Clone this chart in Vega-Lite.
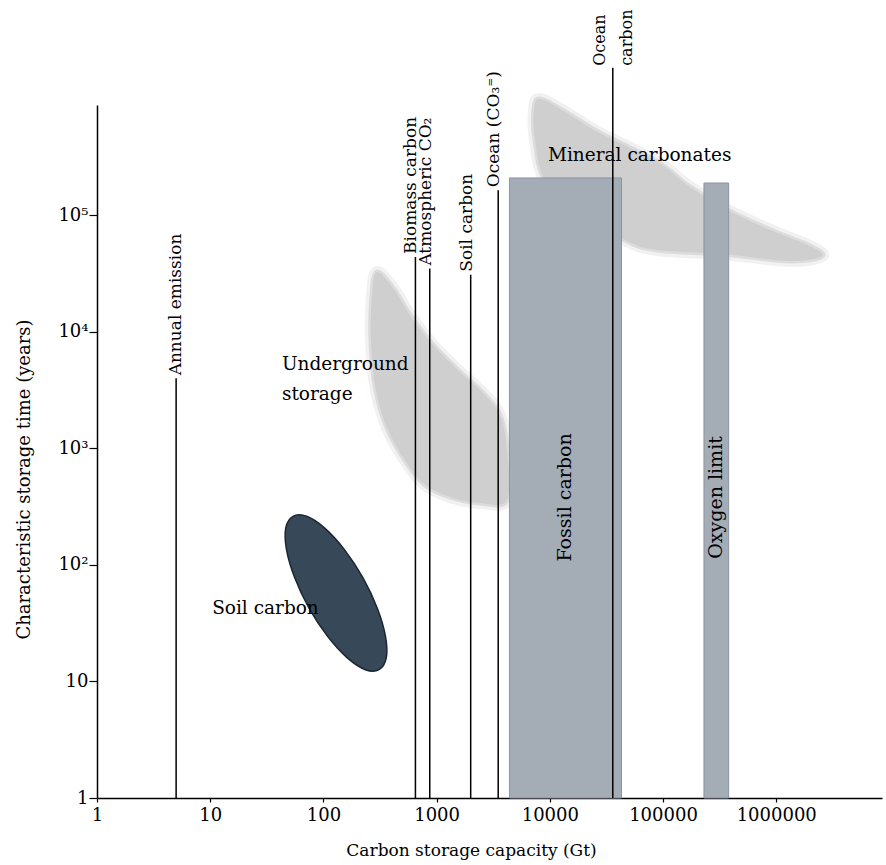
{
  "$schema": "https://vega.github.io/schema/vega-lite/v6.json",
  "width": 785,
  "height": 693,
  "autosize": {"type": "none"},
  "padding": {"left": 97, "top": 105, "right": 4, "bottom": 62},
  "background": "white",
  "config": {
    "view": {"stroke": null},
    "font": "DejaVu Serif",
    "text": {"font": "DejaVu Serif", "fontSize": 17, "color": "black"},
    "axis": {
      "grid": false,
      "domainColor": "black",
      "domainWidth": 1.5,
      "tickColor": "black",
      "tickWidth": 1.2,
      "labelFont": "DejaVu Serif",
      "labelFontSize": 18,
      "labelColor": "black",
      "titleFont": "DejaVu Serif",
      "titleFontSize": 17,
      "titleFontWeight": "normal",
      "titleColor": "black"
    }
  },
  "datasets": {
    "outlines": [
      {"region": "Mineral carbonates", "step": 1, "capacity": 8200, "time": 1000000},
      {"region": "Mineral carbonates", "step": 2, "capacity": 14200, "time": 760000},
      {"region": "Mineral carbonates", "step": 3, "capacity": 27700, "time": 510000},
      {"region": "Mineral carbonates", "step": 4, "capacity": 88400, "time": 290000},
      {"region": "Mineral carbonates", "step": 5, "capacity": 173000, "time": 176000},
      {"region": "Mineral carbonates", "step": 6, "capacity": 391000, "time": 109000},
      {"region": "Mineral carbonates", "step": 7, "capacity": 937000, "time": 73700},
      {"region": "Mineral carbonates", "step": 8, "capacity": 1990000, "time": 54700},
      {"region": "Mineral carbonates", "step": 9, "capacity": 2540000, "time": 44900},
      {"region": "Mineral carbonates", "step": 10, "capacity": 1320000, "time": 40700},
      {"region": "Mineral carbonates", "step": 11, "capacity": 339000, "time": 46700},
      {"region": "Mineral carbonates", "step": 12, "capacity": 88400, "time": 50600},
      {"region": "Mineral carbonates", "step": 13, "capacity": 46200, "time": 61700},
      {"region": "Mineral carbonates", "step": 14, "capacity": 18500, "time": 111500},
      {"region": "Mineral carbonates", "step": 15, "capacity": 9070, "time": 201600},
      {"region": "Mineral carbonates", "step": 16, "capacity": 7400, "time": 445000},
      {"region": "Mineral carbonates", "step": 17, "capacity": 7250, "time": 805000},
      {"region": "Underground storage", "step": 1, "capacity": 297, "time": 32700},
      {"region": "Underground storage", "step": 2, "capacity": 412, "time": 23900},
      {"region": "Underground storage", "step": 3, "capacity": 582, "time": 14000},
      {"region": "Underground storage", "step": 4, "capacity": 929, "time": 7730},
      {"region": "Underground storage", "step": 5, "capacity": 1610, "time": 4540},
      {"region": "Underground storage", "step": 6, "capacity": 2570, "time": 3000},
      {"region": "Underground storage", "step": 7, "capacity": 3630, "time": 1940},
      {"region": "Underground storage", "step": 8, "capacity": 4190, "time": 971},
      {"region": "Underground storage", "step": 9, "capacity": 4190, "time": 361},
      {"region": "Underground storage", "step": 10, "capacity": 2420, "time": 341},
      {"region": "Underground storage", "step": 11, "capacity": 1310, "time": 384},
      {"region": "Underground storage", "step": 12, "capacity": 790, "time": 486},
      {"region": "Underground storage", "step": 13, "capacity": 559, "time": 722},
      {"region": "Underground storage", "step": 14, "capacity": 372, "time": 1440},
      {"region": "Underground storage", "step": 15, "capacity": 291, "time": 3180},
      {"region": "Underground storage", "step": 16, "capacity": 263, "time": 8530},
      {"region": "Underground storage", "step": 17, "capacity": 269, "time": 20800},
      {"region": "Soil carbon", "step": 1, "capacity": 309.8, "time": 12.63},
      {"region": "Soil carbon", "step": 2, "capacity": 235.0, "time": 12.63},
      {"region": "Soil carbon", "step": 3, "capacity": 162.6, "time": 15.94},
      {"region": "Soil carbon", "step": 4, "capacity": 108.9, "time": 24.38},
      {"region": "Soil carbon", "step": 5, "capacity": 74.6, "time": 42.58},
      {"region": "Soil carbon", "step": 6, "capacity": 55.7, "time": 77.96},
      {"region": "Soil carbon", "step": 7, "capacity": 47.2, "time": 135.8},
      {"region": "Soil carbon", "step": 8, "capacity": 46.5, "time": 208.2},
      {"region": "Soil carbon", "step": 9, "capacity": 53.9, "time": 261.8},
      {"region": "Soil carbon", "step": 10, "capacity": 71.1, "time": 261.8},
      {"region": "Soil carbon", "step": 11, "capacity": 102.7, "time": 207.4},
      {"region": "Soil carbon", "step": 12, "capacity": 153.3, "time": 135.6},
      {"region": "Soil carbon", "step": 13, "capacity": 223.8, "time": 77.7},
      {"region": "Soil carbon", "step": 14, "capacity": 299.9, "time": 42.4},
      {"region": "Soil carbon", "step": 15, "capacity": 353.8, "time": 24.3},
      {"region": "Soil carbon", "step": 16, "capacity": 358.8, "time": 15.88}
    ],
    "reservoirs": [
      {"name": "Annual emission", "capacity": 5, "time": 4000, "base": 1},
      {"name": "Biomass carbon", "capacity": 650, "time": 44000, "base": 1},
      {"name": "Atmospheric CO₂", "capacity": 870, "time": 35000, "base": 1},
      {"name": "Soil carbon", "capacity": 2000, "time": 31000, "base": 1},
      {"name": "Ocean (CO₃⁼)", "capacity": 3500, "time": 165000, "base": 1},
      {"name": "Ocean carbon", "capacity": 36000, "time": 1850000, "base": 1}
    ],
    "ranges": [
      {"name": "Fossil carbon", "low": 4400, "high": 43000, "time": 210000, "base": 1},
      {"name": "Oxygen limit", "low": 230000, "high": 380000, "time": 190000, "base": 1}
    ],
    "notes": [
      {"label": "Underground\nstorage", "capacity": 43, "time": 5310},
      {"label": "Mineral carbonates", "capacity": 9640, "time": 331000},
      {"label": "Soil carbon", "capacity": 10.4, "time": 42.8},
      {"label": "Fossil carbon", "capacity": 13750, "time": 380},
      {"label": "Oxygen limit", "capacity": 296000, "time": 380}
    ]
  },
  "layer": [
    {
      "data": {"name": "outlines"},
      "transform": [{"filter": "datum.region !== 'Soil carbon'"}],
      "mark": {
        "type": "line",
        "interpolate": "cardinal-closed",
        "fill": null,
        "stroke": "#d6d6d6",
        "strokeWidth": 12,
        "strokeOpacity": 0.35,
        "strokeJoin": "round"
      },
      "encoding": {
        "x": {
          "field": "capacity",
          "type": "quantitative",
          "scale": {"type": "log", "domain": [1, 8600000], "nice": false},
          "axis": {
            "values": [1, 10, 100, 1000, 10000, 100000, 1000000],
            "labelExpr": "format(datum.value, 'd')",
            "tickSize": 4,
            "labelPadding": 4,
            "labelFlush": false,
            "labelOverlap": false,
            "title": "Carbon storage capacity (Gt)",
            "titleX": 374,
            "titleAlign": "center",
            "titlePadding": 18
          }
        },
        "y": {
          "field": "time",
          "type": "quantitative",
          "scale": {"type": "log", "domain": [1, 888000], "nice": false},
          "axis": {
            "values": [1, 10, 100, 1000, 10000, 100000],
            "labelExpr": "datum.value == 1 ? '1' : datum.value == 10 ? '10' : datum.value == 100 ? '10²' : datum.value == 1000 ? '10³' : datum.value == 10000 ? '10⁴' : '10⁵'",
            "tickSize": 8,
            "labelPadding": 1,
            "labelFlush": false,
            "labelOverlap": false,
            "title": "Characteristic storage time (years)",
            "titleFontSize": 18,
            "titleY": 374,
            "titleAlign": "center",
            "titlePadding": 24
          }
        },
        "detail": {"field": "region", "type": "nominal"},
        "order": {"field": "step", "type": "quantitative"}
      }
    },
    {
      "data": {"name": "outlines"},
      "transform": [{"filter": "datum.region !== 'Soil carbon'"}],
      "mark": {
        "type": "line",
        "interpolate": "cardinal-closed",
        "fill": "#cfcfcf",
        "stroke": "#cfcfcf",
        "strokeWidth": 5,
        "strokeOpacity": 0.6,
        "strokeJoin": "round"
      },
      "encoding": {
        "x": {"field": "capacity", "type": "quantitative"},
        "y": {"field": "time", "type": "quantitative"},
        "detail": {"field": "region", "type": "nominal"},
        "order": {"field": "step", "type": "quantitative"}
      }
    },
    {
      "data": {"name": "outlines"},
      "transform": [{"filter": "datum.region === 'Soil carbon'"}],
      "mark": {
        "type": "line",
        "interpolate": "cardinal-closed",
        "fill": "#374859",
        "stroke": "#1b2631",
        "strokeWidth": 1.5
      },
      "encoding": {
        "x": {"field": "capacity", "type": "quantitative"},
        "y": {"field": "time", "type": "quantitative"},
        "order": {"field": "step", "type": "quantitative"}
      }
    },
    {
      "data": {"name": "ranges"},
      "mark": {"type": "rect", "fill": "#a4acb6", "stroke": "#8b949f", "strokeWidth": 1},
      "encoding": {
        "x": {"field": "low", "type": "quantitative"},
        "x2": {"field": "high"},
        "y": {"field": "time", "type": "quantitative"},
        "y2": {"field": "base"}
      }
    },
    {
      "data": {"name": "reservoirs"},
      "mark": {"type": "rule", "color": "black", "strokeWidth": 1.5},
      "encoding": {
        "x": {"field": "capacity", "type": "quantitative"},
        "y": {"field": "time", "type": "quantitative"},
        "y2": {"field": "base"}
      }
    },
    {
      "data": {"name": "reservoirs"},
      "transform": [{"filter": "datum.name !== 'Annual emission' && datum.name !== 'Ocean carbon'"}],
      "mark": {"type": "text", "angle": -90, "align": "left", "baseline": "alphabetic", "dx": 3, "dy": 1},
      "encoding": {
        "x": {"field": "capacity", "type": "quantitative"},
        "y": {"field": "time", "type": "quantitative"},
        "text": {"field": "name", "type": "nominal"}
      }
    },
    {
      "data": {"name": "reservoirs"},
      "transform": [{"filter": "datum.name === 'Annual emission'"}],
      "mark": {"type": "text", "angle": -90, "align": "left", "baseline": "middle", "dx": 3},
      "encoding": {
        "x": {"field": "capacity", "type": "quantitative"},
        "y": {"field": "time", "type": "quantitative"},
        "text": {"field": "name", "type": "nominal"}
      }
    },
    {
      "data": {"name": "reservoirs"},
      "transform": [{"filter": "datum.name === 'Ocean carbon'"}],
      "mark": {"type": "text", "angle": -90, "align": "left", "baseline": "middle", "fontSize": 16, "dx": 2, "dy": -13, "lineBreak": " ", "lineHeight": 27},
      "encoding": {
        "x": {"field": "capacity", "type": "quantitative"},
        "y": {"field": "time", "type": "quantitative"},
        "text": {"field": "name", "type": "nominal"}
      }
    },
    {
      "data": {"name": "notes"},
      "transform": [{"filter": "datum.label === 'Fossil carbon' || datum.label === 'Oxygen limit'"}],
      "mark": {"type": "text", "angle": -90, "align": "center", "baseline": "middle", "fontSize": 19},
      "encoding": {
        "x": {"field": "capacity", "type": "quantitative"},
        "y": {"field": "time", "type": "quantitative"},
        "text": {"field": "label", "type": "nominal"}
      }
    },
    {
      "data": {"name": "notes"},
      "transform": [{"filter": "datum.label !== 'Fossil carbon' && datum.label !== 'Oxygen limit'"}],
      "mark": {"type": "text", "align": "left", "baseline": "middle", "fontSize": 18.5, "lineBreak": "\n", "lineHeight": 30},
      "encoding": {
        "x": {"field": "capacity", "type": "quantitative"},
        "y": {"field": "time", "type": "quantitative"},
        "text": {"field": "label", "type": "nominal"}
      }
    }
  ]
}
